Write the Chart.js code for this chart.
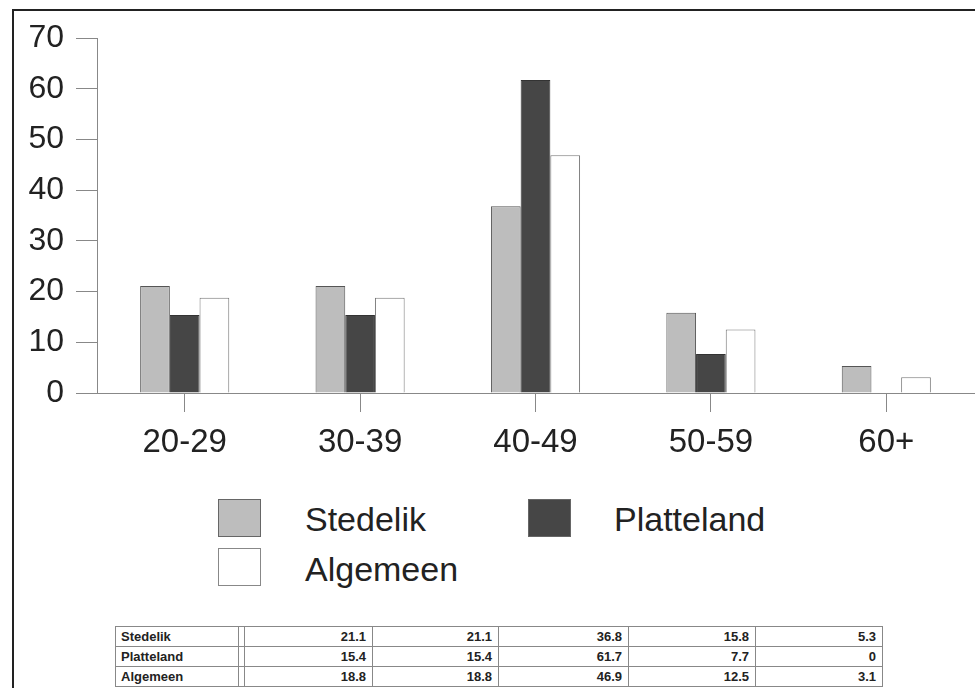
<!DOCTYPE html>
<html>
<head>
<meta charset="utf-8">
<script src="https://cdn.jsdelivr.net/npm/chart.js@4/dist/chart.umd.min.js"></script>
<style>
  html, body { margin: 0; padding: 0; background: #fff; overflow: hidden; width: 975px; height: 688px; }
  body { position: relative; font-family: "Liberation Sans", Arial, sans-serif; color: #222; }
  #frame { position: absolute; left: 12px; top: 9px; width: 990px; height: 720px; border: 2px solid #222; box-sizing: border-box; }
  #c { position: absolute; left: 0; top: 0; }
  .lg-box { position: absolute; width: 43px; height: 38px; box-sizing: border-box; }
  .lg-text { position: absolute; font-size: 34px; line-height: 34px; white-space: nowrap; color: #222; }
  #tbl { position: absolute; left: 115px; top: 626px; border-collapse: collapse; font-weight: bold; font-size: 13px; color: #222; }
  #tbl td { border: 1px solid #888; height: 20px; padding: 0 6px 0 0; text-align: right; box-sizing: border-box; }
  #tbl td.lab { text-align: left; padding: 0 0 0 5px; }
  #tbl td.sp { padding: 0; }
</style>
</head>
<body>
<div id="frame"></div>
<canvas id="c" width="975" height="470"></canvas>
<div id="legend"></div>
<table id="tbl"></table>
<script>
const categories = ["20-29", "30-39", "40-49", "50-59", "60+"];
const seriesNames = ["Stedelik", "Platteland", "Algemeen"];
const stedelik   = [21.1, 21.1, 36.8, 15.8, 5.3];
const platteland = [15.4, 15.4, 61.7, 7.7, 0];
const algemeen   = [18.8, 18.8, 46.9, 12.5, 3.1];

const fills   = ["#bdbdbd", "#464646", "#ffffff"];
const borders = ["#555555", "#333333", "#777777"];
const seriesData = [stedelik, platteland, algemeen];

const FONT = "'Liberation Sans', Arial, sans-serif";

new Chart(document.getElementById("c"), {
  type: "bar",
  data: {
    labels: categories,
    datasets: seriesNames.map((n, i) => ({
      label: n,
      data: seriesData[i],
      backgroundColor: fills[i],
      borderColor: borders[i],
      borderWidth: 1,
      categoryPercentage: 0.508,
      barPercentage: 1.0
    }))
  },
  options: {
    responsive: false,
    animation: false,
    devicePixelRatio: 1,
    layout: { padding: { top: 38, left: 0, right: 1, bottom: 0 } },
    plugins: { legend: { display: false }, tooltip: { enabled: false } },
    scales: {
      y: {
        min: 0, max: 70,
        ticks: { stepSize: 10, color: "#222", font: { family: FONT, size: 32 }, padding: 12 },
        grid: { drawOnChartArea: false, tickLength: 21, color: "#888", lineWidth: 1 },
        border: { color: "#888", width: 1 },
        afterFit: (s) => { s.width = 97; }
      },
      x: {
        ticks: { color: "#222", font: { family: FONT, size: 33 }, padding: 11 },
        grid: { offset: false, drawOnChartArea: false, tickLength: 19, color: "#888", lineWidth: 1 },
        border: { color: "#888", width: 1 },
        afterFit: (s) => { s.height = 77; }
      }
    }
  }
});

// Legend
const legendPos = [
  { bx: 218, by: 499, tx: 305, ty: 502 },
  { bx: 528, by: 499, tx: 614, ty: 502 },
  { bx: 218, by: 548, tx: 305, ty: 552 }
];
const lg = document.getElementById("legend");
seriesNames.forEach((n, i) => {
  const b = document.createElement("div");
  b.className = "lg-box";
  b.style.left = legendPos[i].bx + "px";
  b.style.top = legendPos[i].by + "px";
  b.style.background = fills[i];
  b.style.border = "1px solid " + (i === 2 ? "#888" : "#666");
  lg.appendChild(b);
  const t = document.createElement("div");
  t.className = "lg-text";
  t.style.left = legendPos[i].tx + "px";
  t.style.top = legendPos[i].ty + "px";
  t.textContent = n;
  lg.appendChild(t);
});

// Data table
const colW = [128, 126, 130, 127, 127];
const tbl = document.getElementById("tbl");
seriesNames.forEach((n, i) => {
  const tr = document.createElement("tr");
  const l = document.createElement("td");
  l.className = "lab"; l.style.width = "123px"; l.textContent = n;
  tr.appendChild(l);
  const sp = document.createElement("td");
  sp.className = "sp"; sp.style.width = "6px";
  tr.appendChild(sp);
  seriesData[i].forEach((v, j) => {
    const td = document.createElement("td");
    td.style.width = colW[j] + "px";
    td.textContent = String(v);
    tr.appendChild(td);
  });
  tbl.appendChild(tr);
});
</script>
</body>
</html>
